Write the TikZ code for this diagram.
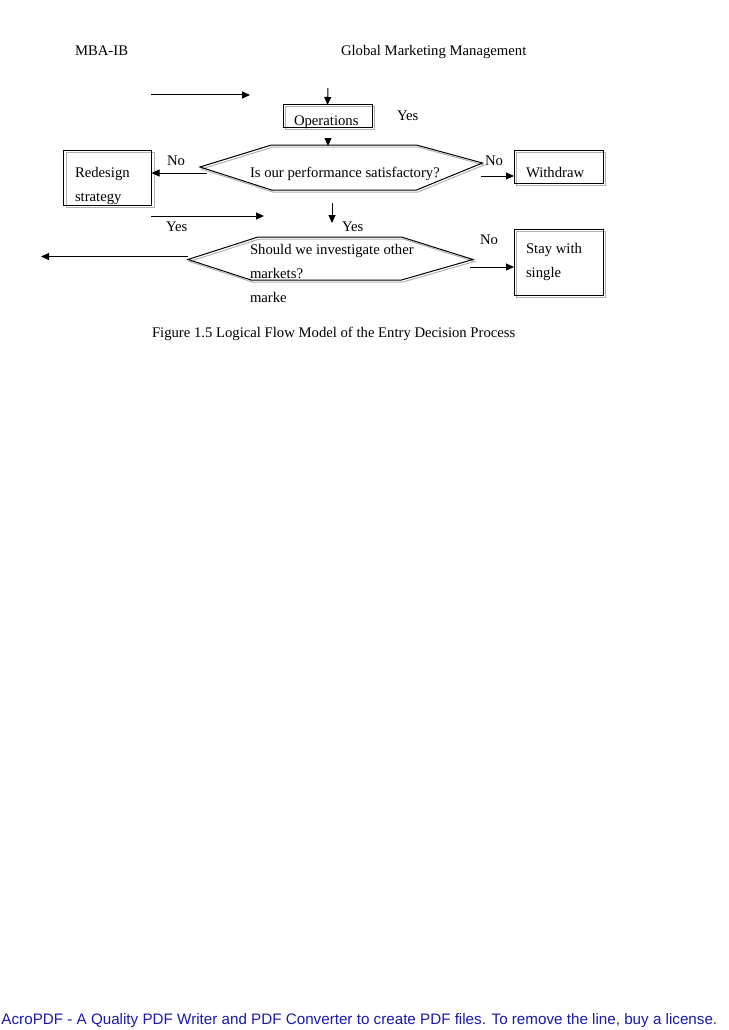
\documentclass[tikz,border=0pt]{standalone}
\usepackage{fontspec}
\setmainfont{Liberation Serif}
\newfontfamily\footfont{Liberation Sans}
\usetikzlibrary{arrows.meta}
\definecolor{footblue}{RGB}{25,25,175}
\begin{document}
\begin{tikzpicture}[x=1pt,y=-1pt,line width=1pt,
  txt/.style={anchor=base west,inner sep=0pt,outer sep=0pt,font=\fontsize{14.7}{17}\selectfont},
  boxmain/.style={draw=black,inner sep=0pt,outer sep=0pt},
  boxshad/.style={draw=gray!60,inner sep=0pt,outer sep=0pt},
  hexmain/.style={draw=black},
  hexshad/.style={draw=gray!60},
  arr/.style={-{Triangle[length=8pt,width=7pt]},line width=1pt}]
\useasboundingbox (0,0) rectangle (728,1030);
% header
\node[txt] (hdl) at (75,56) {MBA-IB};
\node[txt] (hdr) at (341,56) {Global Marketing Management};
% boxes (shadow first)
\node[boxshad,minimum width=89pt,minimum height=23pt] (opsS) at (330,118.5) {};
\node[boxmain,minimum width=89pt,minimum height=23pt] (ops) at (327.5,116.5) {};
\node[boxshad,minimum width=88pt,minimum height=55pt] (redS) at (110,179.5) {};
\node[boxmain,minimum width=88pt,minimum height=55pt] (red) at (107.5,177.5) {};
\node[boxshad,minimum width=89pt,minimum height=33pt] (witS) at (561,168.5) {};
\node[boxmain,minimum width=89pt,minimum height=33pt] (wit) at (558.5,166.5) {};
\node[boxshad,minimum width=89pt,minimum height=66pt] (staS) at (561,264.5) {};
\node[boxmain,minimum width=89pt,minimum height=66pt] (sta) at (558.5,262) {};
% hexagon 1
\draw[hexshad] (201.5,169) -- (273,147) -- (418,147) -- (484,165) -- (418,192) -- (273,192) -- cycle;
\draw[hexmain] (200,167) -- (271.5,145) -- (416.5,145) -- (482.5,163) -- (416.5,190) -- (271.5,190) -- cycle;
% hexagon 2
\draw[hexshad] (189.5,261.5) -- (259.5,239) -- (403,239) -- (474.5,261.5) -- (403,282) -- (252.5,282) -- cycle;
\draw[hexmain] (188,259.5) -- (258,237) -- (401.5,237) -- (473,259.5) -- (401.5,280) -- (251,280) -- cycle;
% texts
\node[txt] (tops) at (294,125.5) {Operations};
\node[txt] (tyes1) at (397,121) {Yes};
\node[txt] (tno1) at (167,165) {No};
\node[txt] (tred1) at (75,177.5) {Redesign};
\node[txt] (tred2) at (75,201) {strategy};
\node[txt] (tq1) at (250,177.5) {Is our performance satisfactory?};
\node[txt] (tno2) at (485,165) {No};
\node[txt] (twit) at (526,177.5) {Withdraw};
\node[txt] (tyes2) at (166,231) {Yes};
\node[txt] (tyes3) at (342,231) {Yes};
\node[txt] (tq2a) at (250,254) {Should we investigate other};
\node[txt] (tq2b) at (250,278.5) {markets?};
\node[txt] (tq2c) at (250,302) {marke};
\node[txt] (tno3) at (480,244) {No};
\node[txt] (tsta1) at (526,253.5) {Stay with};
\node[txt] (tsta2) at (526,277.5) {single};
\node[txt] (cap) at (152,337) {Figure 1.5 Logical Flow Model of the Entry Decision Process};
% coordinates for connector ends
\coordinate (a1s) at (151,95);
\coordinate (a1e) at (250,95);
\coordinate (d1s) at (328,88);
\coordinate (d2s) at (328,138);
\coordinate (h1top) at (328,146);
\coordinate (h1l) at (207,173);
\coordinate (redin) at (151.5,173);
\coordinate (h1r) at (481,176);
\coordinate (witin) at (514,176);
\coordinate (a2s) at (151,216);
\coordinate (a2e) at (264,216);
\coordinate (d3s) at (332,203);
\coordinate (d3e) at (332,223);
\coordinate (h2l) at (188,256.5);
\coordinate (farl) at (41,256.5);
\coordinate (h2r) at (470,267);
\coordinate (stain) at (514,267);
% connectors
\draw[arr] (a1s) -- (a1e);
\draw[arr] (d1s) -- (ops.north);
\draw[arr] (d2s) -- (h1top);
\draw[arr] (h1l) -- (redin);
\draw[arr] (h1r) -- (witin);
\draw[arr] (a2s) -- (a2e);
\draw[arr] (d3s) -- (d3e);
\draw[arr] (h2l) -- (farl);
\draw[arr] (h2r) -- (stain);
% footer
\node[anchor=base west,inner sep=0pt,text=footblue,font=\footfont\fontsize{15.2}{17}\selectfont] (foot) at (1,1024) {AcroPDF - A Quality PDF Writer and PDF Converter to create PDF files. To remove the line, buy a license.};
\end{tikzpicture}
\end{document}
